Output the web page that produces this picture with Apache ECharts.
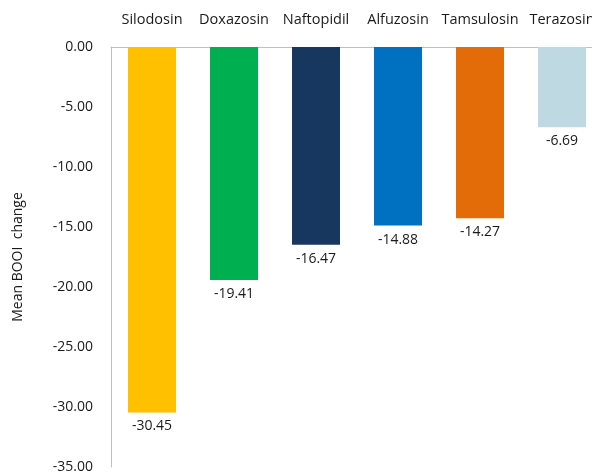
<!DOCTYPE html>
<html>
<head>
<meta charset="utf-8">
<style>
  html, body { margin: 0; padding: 0; background: #fff; }
  #chart { width: 592px; height: 475px; }
</style>
<script src="https://cdn.jsdelivr.net/npm/echarts@6/dist/echarts.min.js"></script>
</head>
<body>
<div id="chart"></div>
<script>
// drugs along the top axis
var drugs = ['Silodosin', 'Doxazosin', 'Naftopidil', 'Alfuzosin', 'Tamsulosin', 'Terazosin'];
// mean BOOI change per drug
var booiChange = [-30.45, -19.41, -16.47, -14.88, -14.27, -6.69];
var barColors = ['#FFC000', '#00B050', '#17375E', '#0070C0', '#E36C09', '#BFD9E3'];

var fontFamily = '"Open Sans", "Noto Sans", sans-serif';

var chart = echarts.init(document.getElementById('chart'));
chart.setOption({
    animation: false,
    grid: { left: 111, width: 492, top: 47, bottom: 8, outerBoundsMode: 'none' },
    xAxis: {
        type: 'category',
        position: 'top',
        data: drugs,
        axisLine: { lineStyle: { color: '#BFBFBF' } },
        axisTick: { show: false },
        axisLabel: { color: '#1a1a1a', fontSize: 14.5, fontFamily: fontFamily, margin: 20, interval: 0 }
    },
    yAxis: {
        type: 'value',
        min: -35,
        max: 0,
        interval: 5,
        name: 'Mean BOOI  change',
        nameLocation: 'middle',
        nameGap: 86,
        nameTextStyle: { color: '#1a1a1a', fontSize: 14, fontFamily: fontFamily },
        axisLine: { show: true, lineStyle: { color: '#BFBFBF' } },
        axisTick: { show: false },
        splitLine: { show: false },
        axisLabel: {
            color: '#1a1a1a', fontSize: 14, fontFamily: fontFamily, margin: 18,
            formatter: function (v) { return v.toFixed(2); }
        }
    },
    series: [{
        type: 'bar',
        barWidth: 48,
        data: booiChange.map(function (v, i) {
            return { value: v, itemStyle: { color: barColors[i] } };
        }),
        label: {
            show: true,
            position: 'bottom',
            distance: 7,
            color: '#1a1a1a',
            fontSize: 14,
            fontFamily: fontFamily,
            formatter: function (p) { return p.value.toFixed(2); }
        }
    }]
});
</script>
</body>
</html>
